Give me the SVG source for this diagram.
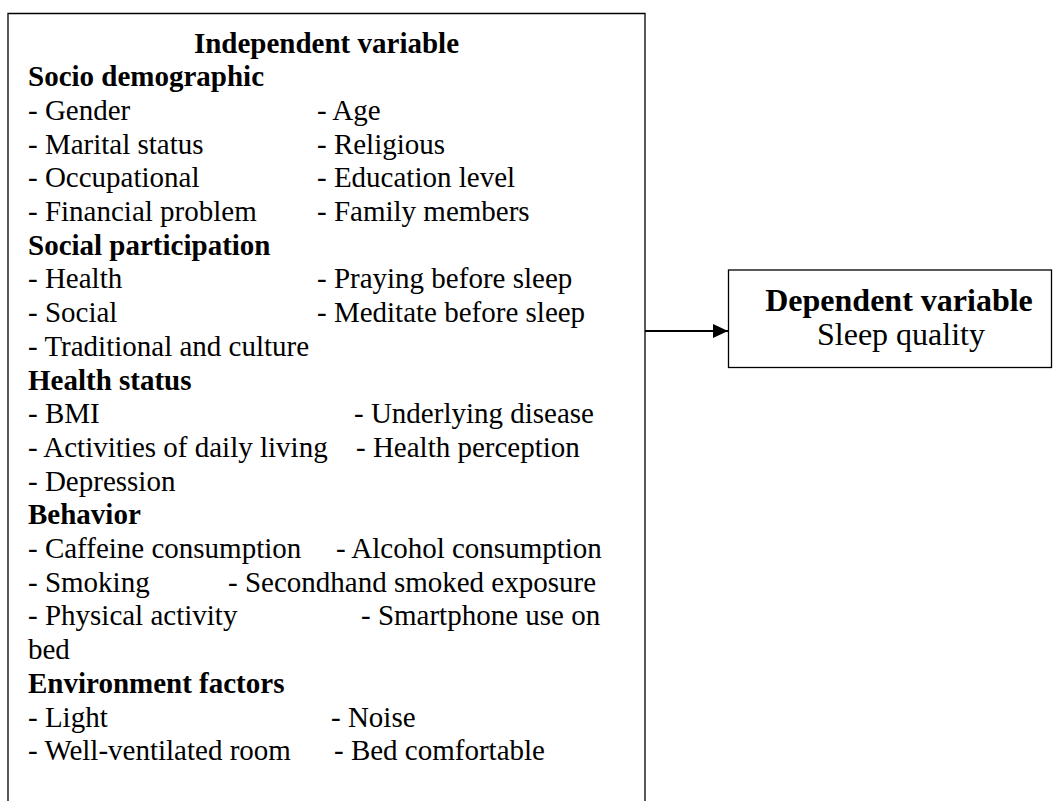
<svg xmlns="http://www.w3.org/2000/svg" width="1053" height="801" viewBox="0 0 1053 801">
<defs>
<style>
text{font-family:"Liberation Serif","Times New Roman",serif;font-size:29px;fill:#000}
.b{font-weight:bold}
.m{text-anchor:middle}
.l{font-size:32px}
.box{fill:#fff;stroke:#000;stroke-width:1.3}
</style>
<marker id="ah" markerWidth="15" markerHeight="14" refX="15" refY="7" orient="auto" markerUnits="userSpaceOnUse" viewBox="0 0 15 14">
<path d="M0,0 L15,7 L0,14 z" fill="#000"/>
</marker>
</defs>
<rect width="1053" height="801" fill="#fff"/>
<g id="independent">
<path class="box" d="M8,810 V13.5 H645 V810"/>
<text class="b m" x="326.5" y="52.5">Independent variable</text>
<text class="b" x="28" y="86">Socio demographic</text>
<text x="28" y="119.9">- Gender</text><text x="317" y="119.9">- Age</text>
<text x="28" y="153.6">- Marital status</text><text x="317" y="153.6">- Religious</text>
<text x="28" y="187.3">- Occupational</text><text x="317" y="187.3">- Education level</text>
<text x="28" y="221">- Financial problem</text><text x="317" y="221">- Family members</text>
<text class="b" x="28" y="254.7">Social participation</text>
<text x="28" y="288.4">- Health</text><text x="317" y="288.4">- Praying before sleep</text>
<text x="28" y="322.1">- Social</text><text x="317" y="322.1">- Meditate before sleep</text>
<text x="28" y="355.8">- Traditional and culture</text>
<text class="b" x="28" y="389.5">Health status</text>
<text x="28" y="423.2">- BMI</text><text x="354" y="423.2">- Underlying disease</text>
<text x="28" y="456.9">- Activities of daily living</text><text x="356" y="456.9">- Health perception</text>
<text x="28" y="490.6">- Depression</text>
<text class="b" x="28" y="524.3">Behavior</text>
<text x="28" y="558">- Caffeine consumption</text><text x="336" y="558">- Alcohol consumption</text>
<text x="28" y="591.7">- Smoking</text><text x="228" y="591.7">- Secondhand smoked exposure</text>
<text x="28" y="625.4">- Physical activity</text><text x="361" y="625.4">- Smartphone use on</text>
<text x="28" y="659.1">bed</text>
<text class="b" x="28" y="692.8">Environment factors</text>
<text x="28" y="726.5">- Light</text><text x="331" y="726.5">- Noise</text>
<text x="28" y="760.2">- Well-ventilated room</text><text x="334" y="760.2">- Bed comfortable</text>
</g>
<g id="dependent">
<rect class="box" x="728.5" y="270" width="323" height="97.5"/>
<text class="b m l" x="899" y="311">Dependent variable</text>
<text class="m l" x="901" y="345">Sleep quality</text>
</g>
<g id="connectors">
<line x1="645" y1="331" x2="728" y2="331" stroke="#000" stroke-width="2" marker-end="url(#ah)"/>
</g>
</svg>
